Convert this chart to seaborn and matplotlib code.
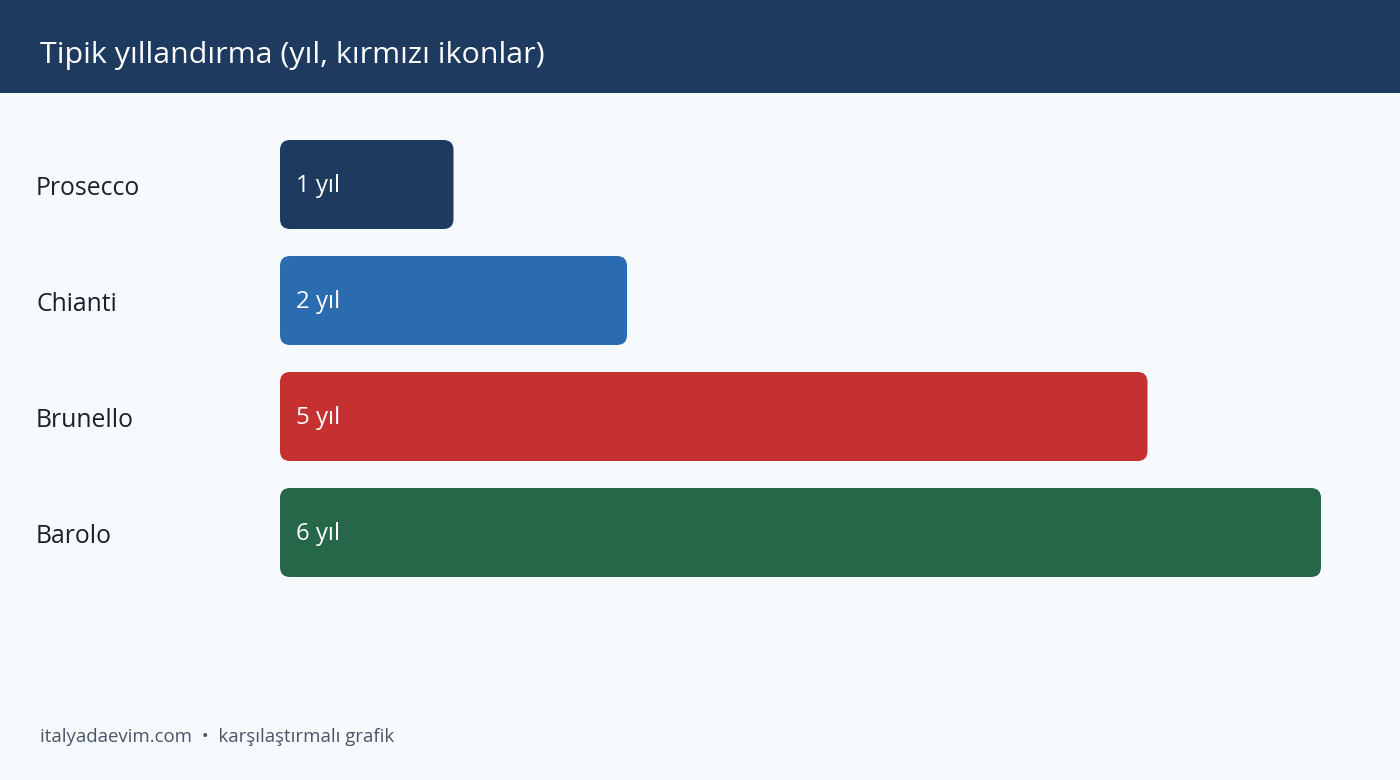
import matplotlib
matplotlib.use("Agg")
import matplotlib.pyplot as plt
from matplotlib.patches import FancyBboxPatch, Rectangle
from matplotlib.transforms import ScaledTranslation
import seaborn as sns
import pandas as pd

wines = ["Prosecco", "Chianti", "Brunello", "Barolo"]
years = [1, 2, 5, 6]
bar_labels = ["1 yıl", "2 yıl", "5 yıl", "6 yıl"]
colors = ["#1e3a5f", "#2b6cb0", "#c53030", "#276749"]

title = "Tipik yıllandırma (yıl, kırmızı ikonlar)"
footer = "italyadaevim.com  •  karşılaştırmalı grafik"

W, H = 1400, 780
BG = "#f7fafd"
PX_X = (1321 - 280) / 6  # pixels per year
PX_Y = 116  # pixels per row
RADIUS = 10

sns.set_theme(style="white")
plt.rcParams["font.family"] = ["Open Sans", "DejaVu Sans"]

df = pd.DataFrame({"wine": wines, "years": years})

fig = plt.figure(figsize=(W / 100, H / 100), dpi=100, facecolor=BG)
# axes placed in pixels: 0..6 years spans 280..1321, rows span 126.5..590.5
ax = fig.add_axes([280 / W, 1 - 590.5 / H, (1321 - 280) / W, 464 / H])
ax.set_facecolor("none")

sns.barplot(data=df, y="wine", x="years", hue="wine", palette=colors, legend=False,
            width=89 / 116, saturation=1, ax=ax)
ax.set_xlim(0, 6)
ax.set_ylim(3.5, -0.5)
ax.set_xlabel("")
ax.set_ylabel("")
ax.set_xticks([])
sns.despine(ax=ax, left=True, bottom=True)

ax.tick_params(axis="y", length=0, pad=244 * 0.72)
nudge = ScaledTranslation(0, -1 / 100, fig.dpi_scale_trans)
for lab in ax.get_yticklabels():
    lab.set_ha("left")
    lab.set_fontsize(17.8)
    lab.set_color("#1a202c")
    lab.set_transform(lab.get_transform() + nudge)

# swap the square bars for rounded ones of the same size
r = RADIUS / PX_X
for bar, txt in zip(list(ax.patches), bar_labels):
    x, y, w, h = bar.get_x(), bar.get_y(), bar.get_width(), bar.get_height()
    color = bar.get_facecolor()
    bar.remove()
    ax.add_patch(FancyBboxPatch((x + r, y + r * PX_X / PX_Y), w - 2 * r, h - 2 * r * PX_X / PX_Y,
                                boxstyle=f"round,pad={r},rounding_size={r}",
                                mutation_aspect=PX_X / PX_Y,
                                facecolor=color, edgecolor="none"))
    ax.annotate(txt, (0, y + h / 2), xytext=(11.5, -0.8),
                textcoords="offset points", color="white", fontsize=17.3,
                va="center", ha="left")

# header band
fig.add_artist(Rectangle((0, 1 - 93 / H), 1, 93 / H, transform=fig.transFigure,
                         facecolor="#1e3a5f", edgecolor="none", zorder=-1))
fig.text(40 / W, 1 - 55 / H, title, color="white", fontsize=21.9, va="center", ha="left")
fig.text(40 / W, 1 - 737 / H, footer, color="#4a5568", fontsize=13.45, va="center", ha="left")

fig.savefig("out.png", dpi=100, facecolor=BG)
